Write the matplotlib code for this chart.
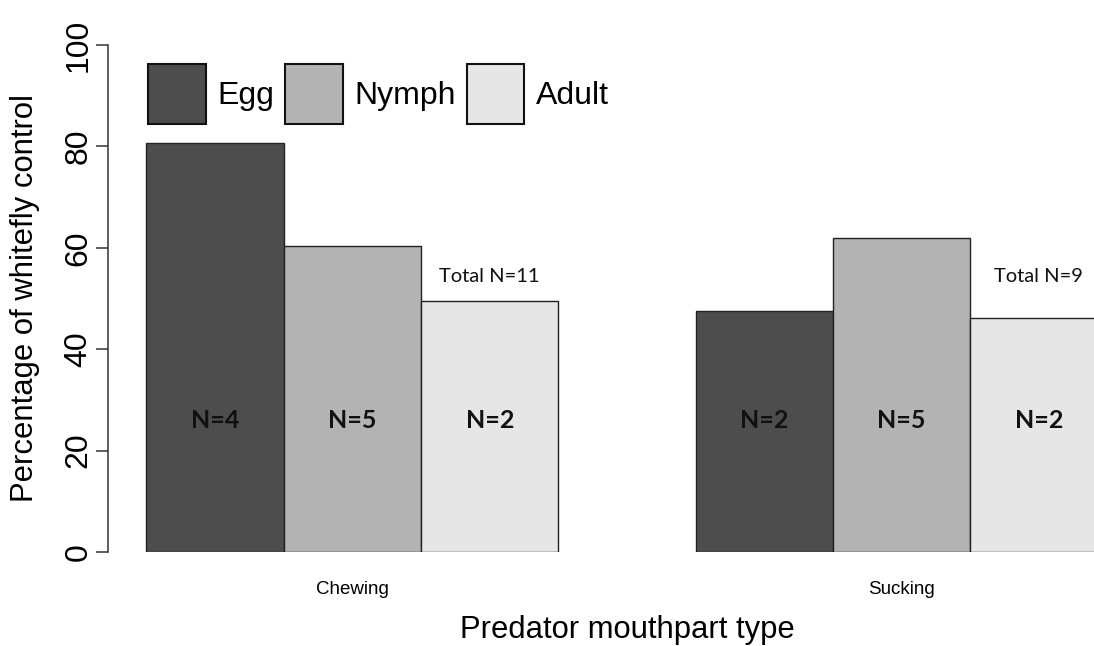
import numpy as np
import matplotlib
matplotlib.use("Agg")
from matplotlib import pyplot as plt

# data
groups = ["Chewing", "Sucking"]
stages = ["Egg", "Nymph", "Adult"]
egg = [80.7, 47.5]
nymph = [60.4, 61.9]
adult = [49.5, 46.2]
n_egg = [4, 2]
n_nymph = [5, 5]
n_adult = [2, 2]
total_n = [11, 9]

colors = ["#4d4d4d", "#b3b3b3", "#e6e6e6"]

W, H = 1094, 646
plt.rcParams["font.family"] = ["Liberation Sans", "DejaVu Sans"]
fig = plt.figure(figsize=(W / 100, H / 100), dpi=100)
# plot region of the (cropped) original extends past the right edge
ax = fig.add_axes([108 / W, 94 / H, 1038 / W, 507 / H])

values = [egg, nymph, adult]
counts = [n_egg, n_nymph, n_adult]
group_left = np.arange(len(groups)) * (len(stages) + 1)

for i, (stage, vals, ns) in enumerate(zip(stages, values, counts)):
    x = group_left + i + 0.5
    ax.bar(x, vals, width=1.0, color=colors[i], edgecolor="#222222",
           linewidth=1.0, label=stage)
    for xi, n in zip(x, ns):
        ax.text(xi, 24.5, f"N={n}", ha="center", va="baseline",
                fontsize=18, fontweight="bold", family=["Lato", "DejaVu Sans"],
                color="#111111")

# total N over the last bar of each group
for g, tot in zip(group_left, total_n):
    ax.text(g + len(stages) - 0.5, 53.3, f"Total N={tot}", ha="center",
            va="baseline", fontsize=14.5, family=["Lato", "DejaVu Sans"],
            color="#111111")

ax.set_xlim(-0.28, 7.28)
ax.set_ylim(0, 100)
for side in ["top", "right", "bottom"]:
    ax.spines[side].set_visible(False)
ax.spines["left"].set_bounds(0, 100)
ax.spines["left"].set_color("#333333")
ax.spines["left"].set_linewidth(1.1)

ax.set_yticks([0, 20, 40, 60, 80, 100])
ax.tick_params(axis="y", length=8.5, width=1.1, color="#333333", pad=2,
               labelsize=23, labelrotation=90)
for lab in ax.get_yticklabels():
    lab.set_va("center")

ax.set_xticks(group_left + len(stages) / 2, groups)
ax.tick_params(axis="x", length=0, pad=21, labelsize=13.5)

fig.text(25.3 / W, (H - 298.5) / H, "Percentage of whitefly control",
         rotation=90, ha="center", va="center", fontsize=22.3)
fig.text(627 / W, 8 / H, "Predator mouthpart type", ha="center",
         va="baseline", fontsize=22.3)

leg = ax.legend(loc="upper left", bbox_to_anchor=(148 / W, 1 - 64 / H),
                bbox_transform=fig.transFigure, ncol=3, frameon=False,
                fontsize=23, borderpad=0, borderaxespad=0,
                handlelength=1.8, handleheight=2.5, handletextpad=0.37,
                columnspacing=0.34)
for p in leg.get_patches():
    p.set_linewidth(1.5)
    p.set_edgecolor("#111111")

fig.savefig("out.png", dpi=100)
